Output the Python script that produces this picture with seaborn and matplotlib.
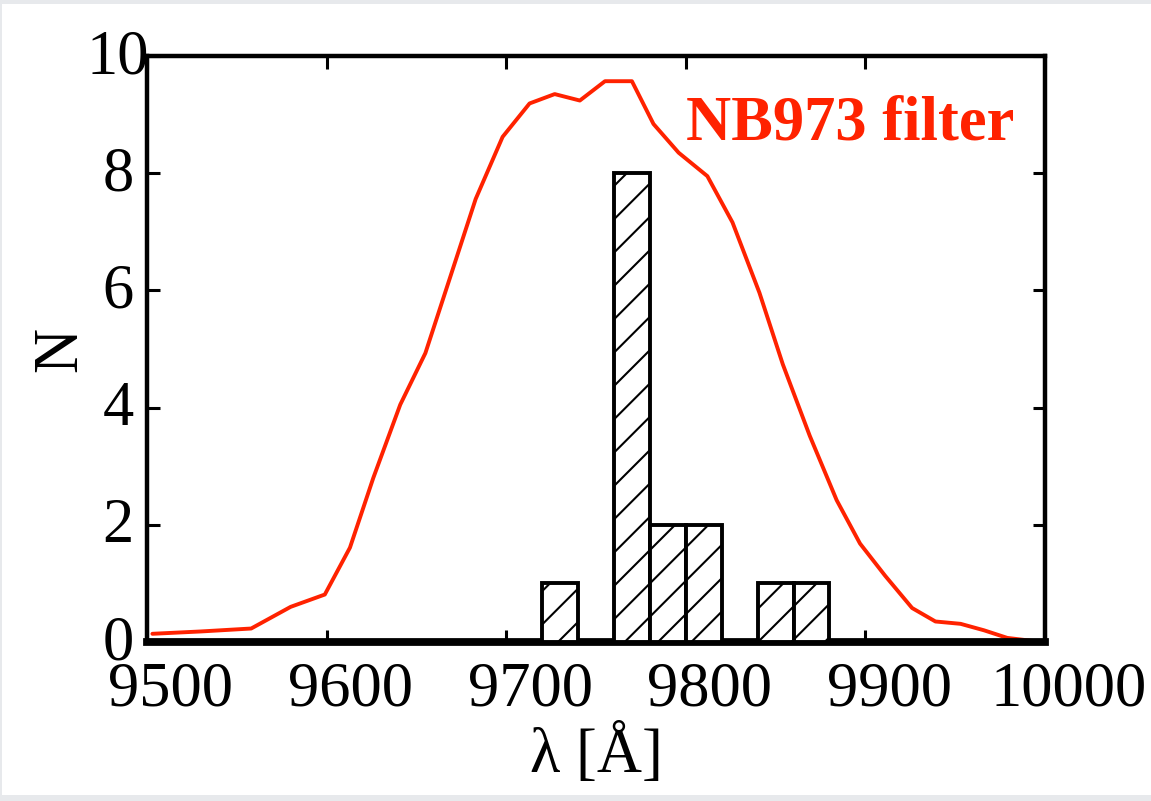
import numpy as np
import matplotlib
matplotlib.use("Agg")
import matplotlib.pyplot as plt
import matplotlib.transforms as mtransforms
from matplotlib.patches import Rectangle
import seaborn as sns

# ---- data ----
filter_wavelength = [9503, 9530, 9558, 9580, 9599, 9613, 9626, 9641, 9655, 9668,
                     9683, 9698, 9713, 9727, 9741, 9755, 9770, 9782, 9796, 9812,
                     9826, 9841, 9854, 9869, 9884, 9897, 9911, 9926, 9939, 9953,
                     9966, 9979, 9998]
filter_curve = [0.14, 0.18, 0.23, 0.60, 0.81, 1.61, 2.80, 4.05, 4.93, 6.15,
                7.56, 8.62, 9.19, 9.35, 9.24, 9.57, 9.57, 8.84, 8.35, 7.95,
                7.16, 5.96, 4.74, 3.52, 2.42, 1.68, 1.13, 0.58, 0.35, 0.31,
                0.20, 0.07, 0.0]

hist_bin_left = [9720, 9760, 9780, 9800, 9840, 9860]
hist_counts = [1, 8, 2, 2, 1, 1]
bin_width = 20

x_ticks = [9500, 9600, 9700, 9800, 9900, 10000]
y_ticks = [0, 2, 4, 6, 8, 10]

# ---- style ----
sns.set_style("ticks")
plt.rcParams["font.family"] = ["Liberation Serif", "DejaVu Serif"]
plt.rcParams["hatch.color"] = "black"
plt.rcParams["hatch.linewidth"] = 0.75

DPI = 200
fig = plt.figure(figsize=(1151 / DPI, 801 / DPI), dpi=DPI, facecolor="white")
# thin grey frame of the screenshot
for rect in [(0, 1 - 4 / 801, 1, 4 / 801), (0, 0, 1, 6 / 801), (0, 0, 2 / 1151, 1)]:
    fig.patches.append(Rectangle(rect[:2], rect[2], rect[3], transform=fig.transFigure,
                                 facecolor="#e7e9ec", edgecolor="none", zorder=-10))

ax = fig.add_axes([147 / 1151, 1 - 642 / 801, 898 / 1151, 586 / 801])

red = "#ff2200"

sns.lineplot(x=filter_wavelength, y=filter_curve, ax=ax, color=red, lw=1.4,
             sort=False, estimator=None, zorder=2)

centers = np.array(hist_bin_left) + bin_width / 2
sns.histplot(x=centers, weights=hist_counts, binwidth=bin_width,
             binrange=(min(hist_bin_left), max(hist_bin_left) + bin_width),
             ax=ax, color="white", edgecolor="black", linewidth=1.4,
             alpha=1, hatch="//", zorder=3)

ax.set_xlim(9500, 10000)
ax.set_ylim(0, 10)
ax.set_xticks(x_ticks)
ax.set_yticks(y_ticks)
ax.tick_params(axis="both", which="major", direction="in", length=4.5, width=1.1,
               labelsize=22.5, top=True, right=True, color="black", labelcolor="black")
ax.tick_params(axis="x", pad=7)
ax.tick_params(axis="y", pad=10.4)

# reference tick labels: x labels sit a little right of their ticks,
# y labels are centred and sit slightly above their ticks
x_offset = mtransforms.ScaledTranslation(24 / DPI, 0, fig.dpi_scale_trans)
for lbl in ax.get_xticklabels():
    lbl.set_transform(lbl.get_transform() + x_offset)
y_offset = mtransforms.ScaledTranslation(0, 5 / DPI, fig.dpi_scale_trans)
for lbl in ax.get_yticklabels():
    lbl.set_horizontalalignment("center")
    lbl.set_transform(lbl.get_transform() + y_offset)

for side in ["left", "right", "top"]:
    ax.spines[side].set_linewidth(1.6)
    ax.spines[side].set_color("black")
ax.spines["bottom"].set_linewidth(2.8)
ax.spines["bottom"].set_color("black")

ax.set_xlabel("λ [Å]", fontsize=22.5, labelpad=2, color="black")
ax.set_ylabel("N", fontsize=22.5, color="black")
ax.yaxis.set_label_coords(-0.063, 0.5)

ax.text(9800, 8.57, "NB973 filter", color=red, fontsize=22.5, fontweight="bold",
        ha="left", va="baseline")

fig.savefig("out.png", dpi=DPI, facecolor=fig.get_facecolor())
